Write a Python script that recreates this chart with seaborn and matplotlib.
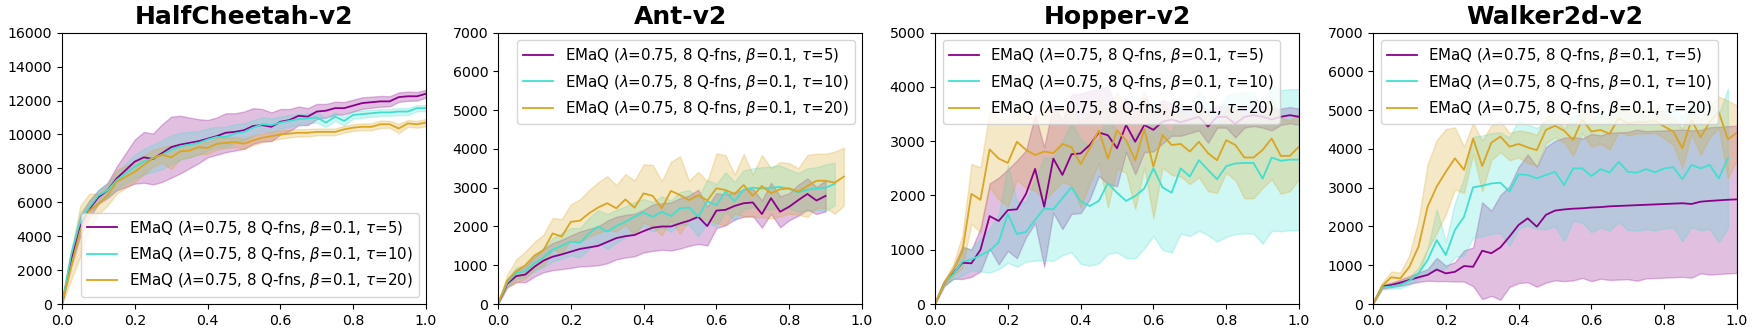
import matplotlib
matplotlib.use('Agg')  # no display here

import matplotlib.pyplot as plt
import numpy as np
import seaborn as sns

# fraction of training, evaluated every 0.025
steps = np.round(np.arange(41) * 0.025, 3)

labels = [r'EMaQ ($\lambda$=0.75, 8 Q-fns, $\beta$=0.1, $\tau$=5)',
          r'EMaQ ($\lambda$=0.75, 8 Q-fns, $\beta$=0.1, $\tau$=10)',
          r'EMaQ ($\lambda$=0.75, 8 Q-fns, $\beta$=0.1, $\tau$=20)']
colors = ['darkmagenta', 'turquoise', 'goldenrod']

# HalfCheetah-v2
hc_p_mean = [0, 2600, 4600, 5600, 6300, 6700, 7400, 7900, 8400, 8650, 8550, 8900, 9250, 9400, 9500, 9600, 9750,
             9900, 10100, 10150, 10250, 10500, 10550, 10450, 10750, 10850, 11100, 11050, 11350, 11400, 11550, 11550,
             11700, 11850, 11900, 11950, 11950, 12200, 12250, 12250, 12400]
hc_p_std = [0, 400, 600, 500, 400, 450, 700, 1000, 1300, 1500, 1500, 1700, 1800, 1700, 1500, 1300, 1100, 1100, 1150,
            1100, 1100, 1050, 950, 850, 750, 650, 550, 500, 450, 400, 380, 360, 350, 340, 330, 320, 300, 280, 270,
            250, 230]
hc_c_mean = [0, 2900, 4900, 5700, 6400, 6700, 7300, 7700, 8100, 8400, 8600, 8800, 9100, 9300, 9400, 9500, 9700,
             9850, 9850, 10050, 10150, 10400, 10600, 10550, 10700, 10800, 10900, 10950, 11000, 10700, 11050, 10800,
             11150, 11200, 11250, 11300, 11300, 11350, 11350, 11550, 11550]
hc_c_std = [0, 300, 500, 400, 350, 400, 500, 600, 700, 750, 800, 850, 850, 800, 750, 700, 650, 600, 600, 550, 500,
            450, 400, 400, 350, 350, 300, 300, 300, 250, 250, 250, 220, 220, 200, 200, 200, 200, 200, 180, 180]
hc_o_mean = [0, 2200, 4300, 5500, 5900, 6400, 7200, 7500, 7800, 8200, 8600, 8800, 8650, 9000, 9050, 9250, 9200,
             9450, 9500, 9550, 9450, 9650, 9800, 9900, 10000, 10050, 10100, 10100, 10150, 10150, 10150, 10300, 10400,
             10450, 10450, 10600, 10600, 10350, 10650, 10600, 10700]
hc_o_std = [0, 800, 1500, 1000, 600, 600, 700, 650, 600, 550, 500, 450, 700, 450, 400, 400, 350, 350, 300, 300, 300,
            280, 260, 250, 250, 230, 220, 220, 200, 200, 200, 200, 200, 200, 200, 220, 200, 280, 200, 200, 220]

# Ant-v2 (runs stop a bit before the end)
ant_p_mean = [0, 520, 720, 760, 960, 1120, 1220, 1280, 1350, 1420, 1460, 1500, 1600, 1700, 1750, 1780, 1880, 1970,
              2000, 2000, 2080, 2150, 2250, 2010, 2410, 2430, 2530, 2600, 2620, 2320, 2730, 2380, 2510, 2680, 2840,
              2670, 2790]
ant_p_std = [0, 100, 150, 200, 250, 300, 350, 380, 420, 450, 480, 500, 550, 550, 550, 550, 550, 600, 600, 620, 650,
             650, 700, 500, 450, 400, 350, 350, 350, 350, 400, 400, 350, 400, 400, 350, 400]
ant_c_mean = [0, 550, 800, 850, 1050, 1200, 1400, 1500, 1610, 1580, 1820, 2000, 1870, 2010, 2120, 2250, 2360, 2250,
              2380, 2270, 2470, 2490, 2250, 2650, 2550, 2900, 2650, 2950, 3000, 2980, 3000, 3020, 2970, 2880, 2950,
              2980, 3000, 3100]
ant_c_std = [0, 100, 150, 150, 200, 250, 300, 330, 350, 380, 400, 420, 450, 420, 400, 380, 350, 380, 400, 400, 420,
             450, 500, 550, 550, 500, 500, 500, 500, 550, 550, 550, 500, 500, 550, 550, 600, 550]
ant_o_mean = [0, 600, 850, 1000, 1250, 1390, 1820, 1740, 2120, 2150, 2340, 2490, 2600, 2470, 2700, 2485, 2855, 2790,
              2470, 2920, 2810, 2680, 2810, 2670, 2985, 2940, 2840, 3070, 2790, 3045, 2855, 2960, 2985, 2900, 3045,
              3180, 3180, 3130, 3285]
ant_o_std = [0, 150, 300, 350, 350, 400, 400, 450, 450, 550, 600, 650, 700, 600, 650, 700, 750, 800, 700, 750, 1000,
             500, 600, 500, 900, 900, 500, 800, 550, 800, 650, 700, 650, 600, 800, 700, 700, 800, 750]

# Hopper-v2
hop_p_mean = [0, 380, 565, 760, 750, 1000, 1620, 1530, 1730, 1745, 2030, 2490, 1790, 2680, 2380, 2760, 2775, 2930,
              3160, 3110, 2870, 3300, 2990, 3300, 3210, 3360, 3400, 3350, 3400, 3450, 3270, 3450, 3450, 3320, 3450,
              3480, 3450, 3400, 3450, 3480, 3450]
hop_p_std = [0, 50, 100, 300, 250, 400, 600, 800, 750, 900, 800, 1000, 1100, 1000, 1000, 1100, 1100, 1000, 800, 900,
             700, 500, 600, 500, 400, 400, 300, 250, 250, 250, 300, 200, 200, 250, 200, 200, 200, 200, 150, 150, 150]
hop_c_mean = [0, 380, 550, 780, 820, 900, 980, 1140, 1660, 1290, 1330, 1550, 1760, 1745, 1950, 2150, 1890, 1805,
              1900, 2225, 2050, 1900, 1990, 2130, 2500, 2150, 2050, 2500, 2350, 2650, 2470, 2300, 2540, 2590, 2600,
              2600, 2310, 2700, 2640, 2660, 2660]
hop_c_std = [0, 50, 100, 250, 200, 300, 400, 500, 900, 600, 550, 750, 950, 950, 1050, 1200, 1150, 1100, 1150, 1300,
             1100, 1050, 1150, 1100, 1250, 1150, 1100, 1200, 1100, 1300, 1200, 1150, 1300, 1300, 1300, 1300, 1200,
             1350, 1300, 1300, 1300]
hop_o_mean = [0, 380, 630, 965, 2030, 1920, 2850, 2680, 2600, 2990, 2840, 2745, 2810, 2780, 2950, 2890, 2580, 2870,
              3200, 2680, 3200, 3020, 2650, 3220, 2530, 3115, 2930, 2950, 2810, 2990, 2780, 2650, 3020, 2930, 2700,
              2700, 2840, 3050, 2730, 2730, 2900]
hop_o_std = [0, 50, 100, 300, 550, 600, 700, 750, 800, 700, 700, 650, 900, 700, 700, 700, 800, 650, 600, 900, 700,
             600, 900, 700, 950, 600, 550, 600, 600, 650, 700, 600, 600, 650, 750, 750, 700, 750, 700, 650, 600]

# Walker2d-v2
wk_p_mean = [0, 450, 490, 550, 620, 690, 750, 890, 790, 830, 980, 960, 1375, 1310, 1460, 1740, 2040, 2210, 1995,
             2300, 2410, 2440, 2460, 2470, 2490, 2500, 2520, 2530, 2540, 2550, 2560, 2570, 2580, 2590, 2600, 2580,
             2640, 2660, 2675, 2690, 2700]
wk_p_std = [0, 50, 60, 80, 100, 120, 150, 300, 200, 250, 400, 500, 1250, 1100, 1350, 1300, 1500, 1650, 1550, 1750,
            1800, 1850, 1850, 1800, 1900, 1850, 1900, 1900, 1900, 1950, 1900, 1900, 1900, 1900, 1900, 1900, 1850,
            1900, 1900, 1900, 1900]
wk_c_mean = [0, 430, 450, 490, 600, 790, 1135, 1650, 1265, 1910, 2250, 3010, 3050, 3110, 3130, 2900, 3345, 3330,
             3240, 3330, 3410, 3070, 3500, 3500, 3300, 3480, 3390, 3670, 3410, 3390, 3480, 3400, 3500, 3530, 3220,
             3590, 3500, 3590, 3240, 3760]
wk_c_std = [0, 50, 60, 80, 100, 150, 300, 800, 350, 700, 1000, 1300, 1300, 1300, 1300, 1400, 1400, 1300, 1300, 1400,
            1400, 1450, 1350, 1400, 1450, 1500, 1500, 1550, 1500, 1500, 1550, 1500, 1550, 1550, 1600, 1600, 1600,
            1650, 1650, 1800]
wk_o_mean = [0, 465, 690, 660, 960, 1480, 2510, 3030, 3410, 3760, 3460, 4270, 3560, 4160, 4320, 4060, 4130, 4040,
             3970, 4490, 4600, 4470, 4230, 4760, 4450, 4490, 4390, 4800, 4650, 4700, 4700, 4720, 4580, 4450, 4020,
             4750, 4300, 4700, 4950, 4250, 4420]
wk_o_std = [0, 80, 150, 150, 300, 700, 1100, 1200, 1100, 800, 600, 400, 650, 450, 400, 350, 350, 400, 400, 350, 300,
            300, 400, 350, 400, 350, 400, 350, 300, 300, 300, 300, 300, 350, 500, 350, 450, 400, 400, 1000, 700]

panels = [
    ('HalfCheetah-v2', [(hc_p_mean, hc_p_std), (hc_c_mean, hc_c_std), (hc_o_mean, hc_o_std)], 16000, 'lower right'),
    ('Ant-v2', [(ant_p_mean, ant_p_std), (ant_c_mean, ant_c_std), (ant_o_mean, ant_o_std)], 7000, 'upper right'),
    ('Hopper-v2', [(hop_p_mean, hop_p_std), (hop_c_mean, hop_c_std), (hop_o_mean, hop_o_std)], 5000, 'upper left'),
    ('Walker2d-v2', [(wk_p_mean, wk_p_std), (wk_c_mean, wk_c_std), (wk_o_mean, wk_o_std)], 7000, 'upper left'),
]

W, H = 1754, 333
fig = plt.figure(figsize=(W / 100, H / 100), dpi=100)
lefts = [62, 498, 935, 1373]

for i, (title, series, ymax, loc) in enumerate(panels):
    ax = fig.add_axes([lefts[i] / W, 29 / H, 364 / W, 271.3 / H])
    for (mean, std), lab, col in zip(series, labels, colors):
        mean = np.array(mean, dtype=float)
        std = np.array(std, dtype=float)
        x = steps[:len(mean)]
        ax.fill_between(x, mean - std, mean + std, color=col, alpha=0.25)
        sns.lineplot(x=x, y=mean, color=col, label=lab, ax=ax, linewidth=1.3)
    ax.set_xlim(0, 1)
    ax.set_ylim(0, ymax)
    ax.set_xlabel('')
    ax.set_ylabel('')
    ax.set_title(title, fontsize=18, fontweight='bold')
    ax.tick_params(labelsize=10.2)
    ax.legend(loc=loc, fontsize=10.8)

fig.savefig('out.png', dpi=100)
plt.close(fig)
